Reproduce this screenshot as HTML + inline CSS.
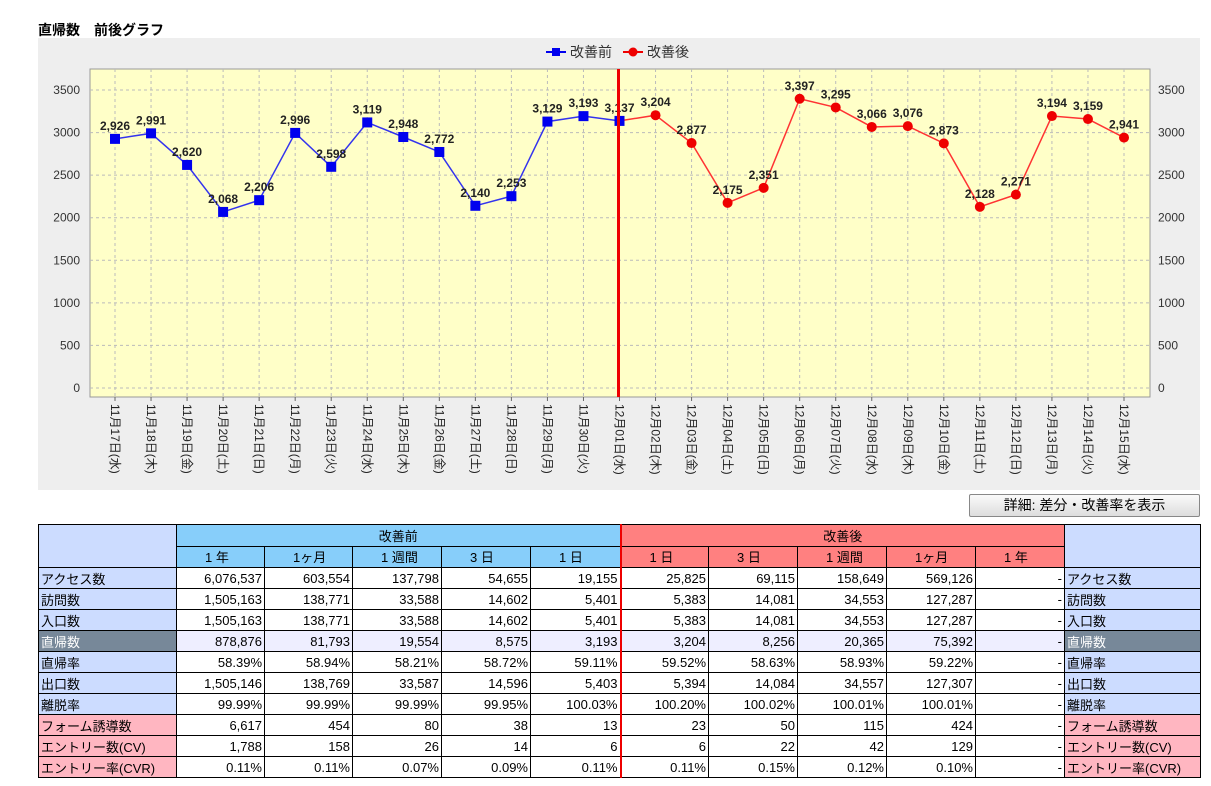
<!DOCTYPE html>
<html><head><meta charset="utf-8">
<style>
body{margin:0;background:#fff;font-family:"Liberation Sans","Noto Sans CJK JP",sans-serif;}
#wrap{position:relative;width:1211px;height:786px;overflow:hidden;}
#title{position:absolute;left:38px;top:20px;font-size:14px;font-weight:bold;}
#chart{position:absolute;left:0;top:0;}
#btn{position:absolute;left:969px;top:494px;width:229px;height:21px;border:1px solid #888;border-radius:2px;background:linear-gradient(#fafafa,#ddd);font-size:14px;text-align:center;line-height:21px;}
table{position:absolute;left:38px;top:524px;border-collapse:collapse;font-size:13px;}
td{border:1px solid #000;height:20px;padding:0 2px;white-space:nowrap;}
td.n{text-align:right;background:#fff;}
td.l{background:#ccdcff;text-align:left;}
td.p{background:#ffb6c1;}
td.d{background:#778899;color:#fff;}
td.hb{background:#87cefa;text-align:center;}
td.hr{background:#ff8080;text-align:center;}
td.sb{background:#87cefa;text-align:left;padding-left:28px;}
td.sr{background:#ff8080;text-align:left;padding-left:28px;}
tr.hl td.n{background:#eeeeff;}
</style></head><body>
<div id="wrap">
<div id="title">直帰数　前後グラフ</div>
<svg id="chart" width="1211" height="500"></svg>
<div id="btn">詳細: 差分・改善率を表示</div>
<table>
<colgroup><col style="width:138px"><col style="width:88px"><col style="width:88px"><col style="width:89px"><col style="width:89px"><col style="width:90px"><col style="width:88px"><col style="width:89px"><col style="width:89px"><col style="width:89px"><col style="width:89px"><col style="width:136px"></colgroup>
<tr><td class="l" rowspan="2" style="height:42px"></td><td class="hb" colspan="5">改善前</td><td class="hr" colspan="5" style="border-left:2px solid #e00">改善後</td><td class="l" rowspan="2"></td></tr>
<tr><td class="sb">1 年</td><td class="sb">1ヶ月</td><td class="sb">1 週間</td><td class="sb">3 日</td><td class="sb">1 日</td><td class="sr" style="border-left:2px solid #e00">1 日</td><td class="sr">3 日</td><td class="sr">1 週間</td><td class="sr">1ヶ月</td><td class="sr">1 年</td></tr>
</table>
</div>
<script>
const dates=["11月17日(水)","11月18日(木)","11月19日(金)","11月20日(土)","11月21日(日)","11月22日(月)","11月23日(火)","11月24日(水)","11月25日(木)","11月26日(金)","11月27日(土)","11月28日(日)","11月29日(月)","11月30日(火)","12月01日(水)","12月02日(木)","12月03日(金)","12月04日(土)","12月05日(日)","12月06日(月)","12月07日(火)","12月08日(水)","12月09日(木)","12月10日(金)","12月11日(土)","12月12日(日)","12月13日(月)","12月14日(火)","12月15日(水)"];
const beforeVals=[2926,2991,2620,2068,2206,2996,2598,3119,2948,2772,2140,2253,3129,3193,3137];
const afterVals=[3204,2877,2175,2351,3397,3295,3066,3076,2873,2128,2271,3194,3159,2941];
const yTicks=[0,500,1000,1500,2000,2500,3000,3500];
const splitIndex=14;

const NS="http://www.w3.org/2000/svg";
const svg=document.getElementById('chart');
function mk(t,a,p){const e=document.createElementNS(NS,t);for(const k in a)e.setAttribute(k,a[k]);(p||svg).appendChild(e);return e;}
const X=i=>115+i*(1124-115)/(dates.length-1);
const Y=v=>388-v*(298/3500);
const fmt=v=>v.toLocaleString('en-US');

let bg=mk('rect',{x:38,y:38,width:1162,height:452,fill:'#eeeeee'});

let pa=mk('rect',{x:90,y:69,width:1060,height:328,fill:'#ffffc8',stroke:'#999'});


yTicks.forEach(t=>{
 const y=Y(t);
 mk('line',{x1:90,x2:1150,y1:y,y2:y,stroke:'#bbb','stroke-dasharray':'3,3'});
 let a=mk('text',{x:80,y:y+4,'text-anchor':'end','font-size':12,fill:'#333'});a.textContent=t;
 
 let b=mk('text',{x:1158,y:y+4,'font-size':12,fill:'#333'});b.textContent=t;
 
});
dates.forEach((d,i)=>{
 const x=X(i);
 mk('line',{x1:x,x2:x,y1:69,y2:397,stroke:'#bbb','stroke-dasharray':'3,3'});
 mk('line',{x1:x,x2:x,y1:397,y2:401,stroke:'#666'});
 let t=mk('text',{x:x-4,y:404,'font-size':12,fill:'#222',transform:`rotate(90 ${x-4} 404)`});t.textContent=d;
 
});
// before series
let bp=beforeVals.map((v,i)=>X(i)+','+Y(v)).join(' ');
let bl=mk('polyline',{points:bp,fill:'none',stroke:'#3333ee','stroke-width':1.5});

// after series starts from split point
let ap=[X(splitIndex-0)+','+Y(beforeVals[splitIndex])].concat(afterVals.map((v,i)=>X(splitIndex+1+i)+','+Y(v))).join(' ');
let al=mk('polyline',{points:ap,fill:'none',stroke:'#ff3333','stroke-width':1.5});

beforeVals.forEach((v,i)=>{
 let m=mk('rect',{x:X(i)-5,y:Y(v)-5,width:10,height:10,fill:'#0000ee'});
 
 let t=mk('text',{x:X(i),y:Y(v)-9,'text-anchor':'middle','font-size':12,'font-weight':'bold',fill:'#222'});t.textContent=fmt(v);
 
});
afterVals.forEach((v,i)=>{
 let m=mk('circle',{cx:X(splitIndex+1+i),cy:Y(v),r:5,fill:'#ee0000'});
 
 let t=mk('text',{x:X(splitIndex+1+i),y:Y(v)-9,'text-anchor':'middle','font-size':12,'font-weight':'bold',fill:'#222'});t.textContent=fmt(v);
 
});
let sl=mk('line',{x1:X(splitIndex)-1,x2:X(splitIndex)-1,y1:69,y2:397,stroke:'#ee0000','stroke-width':3});

// legend
let lg=mk('g',{});
mk('line',{x1:546,x2:566,y1:52,y2:52,stroke:'#0000ee','stroke-width':2},lg);
mk('rect',{x:552,y:48,width:8,height:8,fill:'#0000ee'},lg);
let l1=mk('text',{x:570,y:57,'font-size':14,fill:'#333'},lg);l1.textContent='改善前';
mk('line',{x1:623,x2:643,y1:52,y2:52,stroke:'#ee0000','stroke-width':2},lg);
mk('circle',{cx:633,cy:52,r:4.5,fill:'#ee0000'},lg);
let l2=mk('text',{x:647,y:57,'font-size':14,fill:'#333'},lg);l2.textContent='改善後';

// table rows
const rowLabels=["アクセス数","訪問数","入口数","直帰数","直帰率","出口数","離脱率","フォーム誘導数","エントリー数(CV)","エントリー率(CVR)"];
const rowData=[
["6,076,537","603,554","137,798","54,655","19,155","25,825","69,115","158,649","569,126","-"],
["1,505,163","138,771","33,588","14,602","5,401","5,383","14,081","34,553","127,287","-"],
["1,505,163","138,771","33,588","14,602","5,401","5,383","14,081","34,553","127,287","-"],
["878,876","81,793","19,554","8,575","3,193","3,204","8,256","20,365","75,392","-"],
["58.39%","58.94%","58.21%","58.72%","59.11%","59.52%","58.63%","58.93%","59.22%","-"],
["1,505,146","138,769","33,587","14,596","5,403","5,394","14,084","34,557","127,307","-"],
["99.99%","99.99%","99.99%","99.95%","100.03%","100.20%","100.02%","100.01%","100.01%","-"],
["6,617","454","80","38","13","23","50","115","424","-"],
["1,788","158","26","14","6","6","22","42","129","-"],
["0.11%","0.11%","0.07%","0.09%","0.11%","0.11%","0.15%","0.12%","0.10%","-"]];
const tb=document.querySelector('table');
rowLabels.forEach((lab,r)=>{
 const tr=document.createElement('tr');
 
 
 if(r===3)tr.className='hl';
 const cls=r===3?'d':(r>=7?'p':'l');
 let h='<td class="'+cls+'">'+lab+'</td>';
 rowData[r].forEach((v,c)=>{h+='<td class="n"'+(c===5?' style="border-left:2px solid #e00"':'')+'>'+v+'</td>';});
 h+='<td class="'+cls+'">'+lab+'</td>';
 tr.innerHTML=h;tb.appendChild(tr);
});
</script>
</body></html>
